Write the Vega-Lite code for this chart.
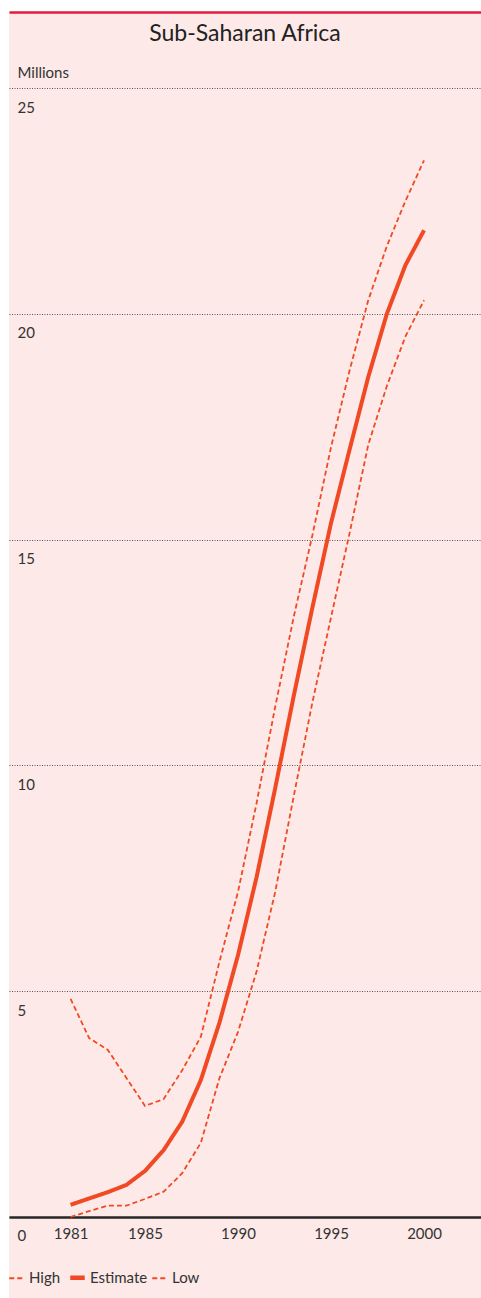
{
  "$schema": "https://vega.github.io/schema/vega-lite/v6.json",
  "autosize": {"type": "none"},
  "width": 472,
  "height": 1286,
  "padding": {"left": 9, "top": 12, "right": 0, "bottom": 0},
  "background": "#ffffff",
  "config": {
    "font": "Lato",
    "view": {"fill": "#fde9e7", "stroke": null},
    "title": {"font": "Lato", "fontSize": 23, "fontWeight": "normal", "color": "#222222"}
  },
  "title": {"text": "Sub-Saharan Africa", "anchor": "middle", "orient": "top", "offset": -45, "baseline": "middle"},
  "data": {
    "values": [
      {"year": 1981, "series": "Estimate", "value": 0.27},
      {"year": 1982, "series": "Estimate", "value": 0.41},
      {"year": 1983, "series": "Estimate", "value": 0.55},
      {"year": 1984, "series": "Estimate", "value": 0.71},
      {"year": 1985, "series": "Estimate", "value": 1.02},
      {"year": 1986, "series": "Estimate", "value": 1.48},
      {"year": 1987, "series": "Estimate", "value": 2.11},
      {"year": 1988, "series": "Estimate", "value": 3.03},
      {"year": 1989, "series": "Estimate", "value": 4.3},
      {"year": 1990, "series": "Estimate", "value": 5.8},
      {"year": 1991, "series": "Estimate", "value": 7.53},
      {"year": 1992, "series": "Estimate", "value": 9.5},
      {"year": 1993, "series": "Estimate", "value": 11.55},
      {"year": 1994, "series": "Estimate", "value": 13.5},
      {"year": 1995, "series": "Estimate", "value": 15.37},
      {"year": 1996, "series": "Estimate", "value": 17.0},
      {"year": 1997, "series": "Estimate", "value": 18.6},
      {"year": 1998, "series": "Estimate", "value": 20.0},
      {"year": 1999, "series": "Estimate", "value": 21.08},
      {"year": 2000, "series": "Estimate", "value": 21.85},
      {"year": 1981, "series": "High", "value": 4.83},
      {"year": 1982, "series": "High", "value": 3.96},
      {"year": 1983, "series": "High", "value": 3.7},
      {"year": 1984, "series": "High", "value": 3.08},
      {"year": 1985, "series": "High", "value": 2.46},
      {"year": 1986, "series": "High", "value": 2.61},
      {"year": 1987, "series": "High", "value": 3.25},
      {"year": 1988, "series": "High", "value": 3.99},
      {"year": 1989, "series": "High", "value": 5.65},
      {"year": 1990, "series": "High", "value": 7.2},
      {"year": 1991, "series": "High", "value": 9.17},
      {"year": 1992, "series": "High", "value": 11.3},
      {"year": 1993, "series": "High", "value": 13.3},
      {"year": 1994, "series": "High", "value": 15.1},
      {"year": 1995, "series": "High", "value": 17.05},
      {"year": 1996, "series": "High", "value": 18.75},
      {"year": 1997, "series": "High", "value": 20.3},
      {"year": 1998, "series": "High", "value": 21.5},
      {"year": 1999, "series": "High", "value": 22.5},
      {"year": 2000, "series": "High", "value": 23.4},
      {"year": 1981, "series": "Low", "value": 0.0},
      {"year": 1982, "series": "Low", "value": 0.13},
      {"year": 1983, "series": "Low", "value": 0.25},
      {"year": 1984, "series": "Low", "value": 0.25},
      {"year": 1985, "series": "Low", "value": 0.4},
      {"year": 1986, "series": "Low", "value": 0.56},
      {"year": 1987, "series": "Low", "value": 0.97},
      {"year": 1988, "series": "Low", "value": 1.64},
      {"year": 1989, "series": "Low", "value": 3.07},
      {"year": 1990, "series": "Low", "value": 4.1},
      {"year": 1991, "series": "Low", "value": 5.44},
      {"year": 1992, "series": "Low", "value": 7.2},
      {"year": 1993, "series": "Low", "value": 9.33},
      {"year": 1994, "series": "Low", "value": 11.4},
      {"year": 1995, "series": "Low", "value": 13.28},
      {"year": 1996, "series": "Low", "value": 15.15},
      {"year": 1997, "series": "Low", "value": 17.1},
      {"year": 1998, "series": "Low", "value": 18.4},
      {"year": 1999, "series": "Low", "value": 19.5},
      {"year": 2000, "series": "Low", "value": 20.3}
    ]
  },
  "resolve": {"axis": {"x": "independent"}},
  "layer": [
    {
      "mark": {"type": "line", "opacity": 0},
      "encoding": {
        "x": {
          "field": "year", "type": "quantitative",
          "scale": {"domain": [1977.69, 2003.06], "nice": false, "zero": false},
          "axis": {"orient": "top", "labels": false, "ticks": false, "grid": false, "title": null, "domainColor": "#e31b3b", "domainWidth": 2.5}
        },
        "y": {"field": "value", "type": "quantitative"},
        "detail": {"field": "series"}
      }
    },
    {
      "mark": {"type": "line", "strokeCap": "butt", "strokeJoin": "miter"},
      "encoding": {
        "x": {
          "field": "year", "type": "quantitative",
          "scale": {"domain": [1977.69, 2003.06], "nice": false, "zero": false},
          "axis": {
            "orient": "bottom", "offset": -81, "values": [1981, 1985, 1990, 1995, 2000], "format": "d",
            "grid": false, "ticks": false, "tickSize": 0, "title": null,
            "domainColor": "#262626", "domainWidth": 2.5,
            "labelFont": "Lato", "labelFontSize": 15, "labelColor": "#333333", "labelPadding": 9, "labelBaseline": "top"
          }
        },
        "y": {
          "field": "value", "type": "quantitative",
          "scale": {"domain": [-1.794, 26.683], "nice": false, "zero": false},
          "axis": {
            "values": [0, 5, 10, 15, 20, 25], "domain": false, "ticks": false, "tickSize": 0,
            "grid": true, "gridColor": "#555555", "gridDash": [1, 1.5], "gridWidth": 1,
            "labelAlign": "left", "labelBaseline": "top", "labelPadding": -8, "labelOffset": 12,
            "labelFont": "Lato", "labelFontSize": 15, "labelColor": "#333333",
            "title": "Millions", "titleAngle": 0, "titleAlign": "left", "titleBaseline": "middle",
            "titleX": 8, "titleY": 60, "titleFont": "Lato", "titleFontSize": 15, "titleFontWeight": "normal", "titleColor": "#333333"
          }
        },
        "color": {
          "field": "series", "type": "nominal",
          "scale": {"domain": ["High", "Estimate", "Low"], "range": ["#f04923", "#f04923", "#f04923"]},
          "legend": {
            "title": null, "orient": "none", "legendX": 0, "legendY": 1258, "direction": "horizontal", "padding": 0,
            "symbolType": "stroke", "symbolSize": 210, "symbolStrokeWidth": 2,
            "labelFont": "Lato", "labelFontSize": 15, "labelColor": "#333333", "labelOffset": 5, "columnPadding": 0,
            "encode": {
              "symbols": {
                "update": {
                  "stroke": {"signal": "datum.value === 'Estimate' ? '#e31b3b' : '#f04923'"},
                  "strokeWidth": {"signal": "datum.value === 'Estimate' ? 4.5 : 1.8"},
                  "strokeDash": {"signal": "datum.value === 'Estimate' ? [1, 0] : [3, 2]"}
                }
              }
            }
          }
        },
        "strokeDash": {
          "field": "series", "type": "nominal",
          "scale": {"domain": ["High", "Estimate", "Low"], "range": [[5, 3], [1, 0], [5, 3]]},
          "legend": null
        },
        "strokeWidth": {
          "condition": {"test": "datum.series === 'Estimate'", "value": 4},
          "value": 1.8
        }
      }
    }
  ]
}
